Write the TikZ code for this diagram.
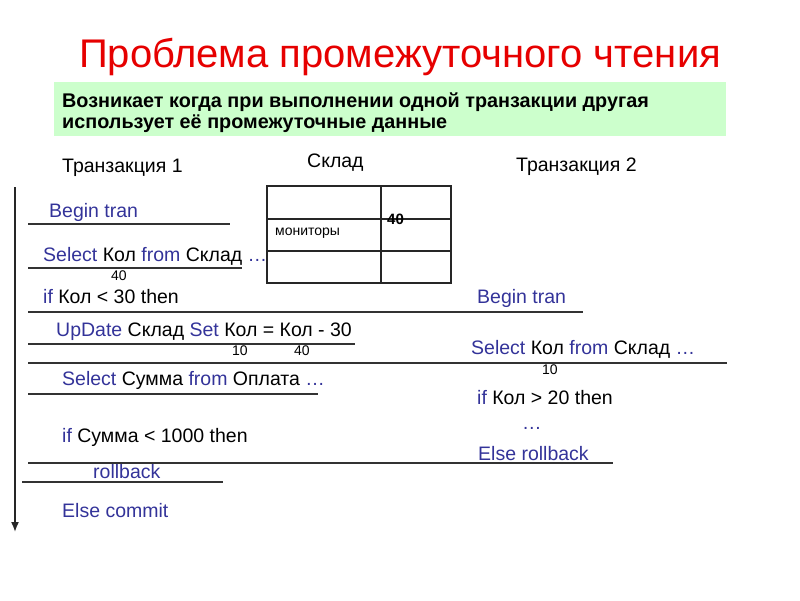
\documentclass[tikz,border=0pt]{standalone}
\usepackage{fontspec}
\setmainfont{Liberation Sans}
\usetikzlibrary{arrows.meta}
\definecolor{kw}{RGB}{51,51,153}
\definecolor{ttl}{RGB}{230,0,0}
\definecolor{note}{RGB}{204,255,204}
\tikzset{
  txt/.style={anchor=base west,inner sep=0pt,font=\fontsize{19.5}{23}\selectfont},
  small/.style={anchor=base west,inner sep=0pt,font=\fontsize{14}{16}\selectfont},
  notetxt/.style={anchor=base west,inner sep=0pt,font=\fontsize{19.8}{23}\selectfont\bfseries},
  rule/.style={line width=1.2pt,black!80},
  grid/.style={line width=1.6pt,black!85}
}
\newcommand{\kw}[1]{\textcolor{kw}{#1}}
\begin{document}
\begin{tikzpicture}[x=1pt,y=-1pt]
\useasboundingbox (0,0) rectangle (800,600);
% title
\node[anchor=base,inner sep=0pt,text=ttl,font=\fontsize{40}{46}\selectfont] (title) at (400,67) {Проблема промежуточного чтения};
% note box
\fill[note] (54,82) rectangle (726,136);
\node[notetxt] (n1) at (62,107) {Возникает когда при выполнении одной транзакции другая};
\node[notetxt] (n2) at (62,128) {использует её промежуточные данные};
% headers
\node[txt] (t1) at (62,172) {Транзакция 1};
\node[txt] (sk) at (307,167) {Склад};
\node[txt] (t2) at (516,171) {Транзакция 2};
% time axis
\coordinate (ax1) at (15,187);
\coordinate (ax2) at (15,532);
\draw[line width=1.6pt,black!85,-{Latex[length=10pt,width=8pt]}] (ax1) -- (ax2);
% table
\draw[grid] (267,186) rectangle (451,283);
\draw[grid] (267,219) -- (451,219);
\draw[grid] (267,251) -- (451,251);
\draw[grid] (381,186) -- (381,283);
\node[small] (mon) at (275,235) {мониторы};
\node[small,font=\fontsize{15}{17}\selectfont\bfseries] (v40) at (387,224) {40};
% transaction 1
\node[txt] (a1) at (49,217) {\kw{Begin tran}};
\node[txt] (a2) at (43,261) {\kw{Select} Кол \kw{from} Склад \kw{…}};
\node[small] (a2n) at (111,280) {40};
\node[txt] (a3) at (43,303) {\kw{if} Кол < 30 then};
\node[txt] (a4) at (56,336) {\kw{UpDate} Склад \kw{Set} Кол = Кол - 30};
\node[small] (a4n1) at (232,355) {10};
\node[small] (a4n2) at (294,355) {40};
\node[txt] (a5) at (62,385) {\kw{Select} Сумма \kw{from} Оплата \kw{…}};
\node[txt] (a6) at (62,442) {\kw{if} Сумма < 1000 then};
\node[txt] (a7) at (93,478) {\kw{rollback}};
\node[txt] (a8) at (62,517) {\kw{Else commit}};
% transaction 2
\node[txt] (b1) at (477,303) {\kw{Begin tran}};
\node[txt] (b2) at (471,354) {\kw{Select} Кол \kw{from} Склад \kw{…}};
\node[small] (b2n) at (542,374) {10};
\node[txt] (b3) at (477,404) {\kw{if} Кол > 20 then};
\node[txt] (b4) at (522,429) {\kw{…}};
\node[txt] (b5) at (478,460) {\kw{Else rollback}};
% rules
\draw[rule] (28,224) -- (230,224);
\draw[rule] (28,268) -- (242,268);
\draw[rule] (28,312) -- (583,312);
\draw[rule] (28,344) -- (355,344);
\draw[rule] (28,363) -- (727,363);
\draw[rule] (28,394) -- (318,394);
\draw[rule] (28,463) -- (613,463);
\draw[rule] (22,482) -- (223,482);
\end{tikzpicture}
\end{document}
